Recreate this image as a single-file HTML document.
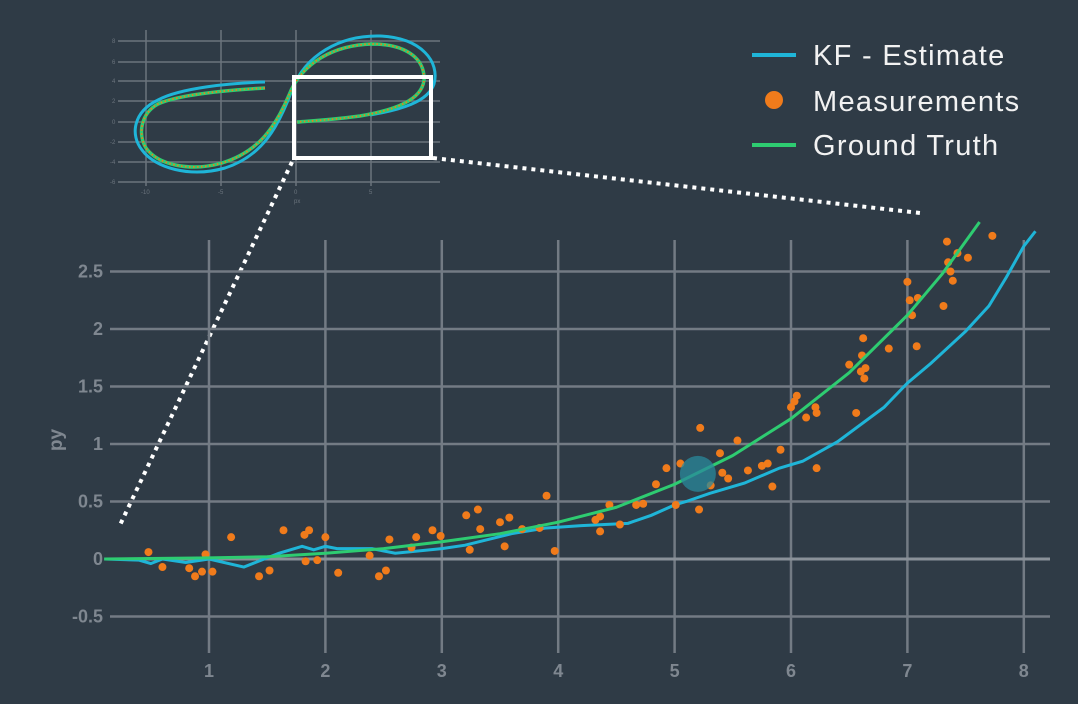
<!DOCTYPE html>
<html><head><meta charset="utf-8"><style>
html,body{margin:0;padding:0;background:#2f3b46;}
svg{display:block;font-family:"Liberation Sans",sans-serif;}
</style></head><body>
<svg id="c" width="1078" height="704">
<rect x="0" y="0" width="1078" height="704" fill="#2f3b46"/>
<g id="inset">
 <g stroke="#6b747d" stroke-width="1.5">
  <line x1="146" y1="30" x2="146" y2="186"/><line x1="221" y1="30" x2="221" y2="186"/>
  <line x1="296" y1="30" x2="296" y2="186"/><line x1="371" y1="30" x2="371" y2="186"/>
  <line x1="118" y1="41" x2="440" y2="41"/><line x1="118" y1="62" x2="440" y2="62"/>
  <line x1="118" y1="81" x2="440" y2="81"/><line x1="118" y1="101" x2="440" y2="101"/>
  <line x1="118" y1="122" x2="440" y2="122"/><line x1="118" y1="142" x2="440" y2="142"/>
  <line x1="118" y1="162" x2="440" y2="162"/><line x1="118" y1="182" x2="440" y2="182"/>
 </g>
 <g fill="#6b747d" font-size="6">
  <text x="141" y="194">-10</text><text x="218" y="194">-5</text><text x="294" y="194">0</text><text x="369" y="194">5</text>
  <text x="294" y="203">px</text>
  <text x="112" y="43">8</text><text x="112" y="64">6</text><text x="112" y="83">4</text><text x="112" y="103">2</text>
  <text x="112" y="124">0</text><text x="110" y="144">-2</text><text x="110" y="164">-4</text><text x="110" y="184">-6</text>
 </g>
 <path d="M265,82 C230,83 180,88 158,100 C133,112 130,135 142,150 C155,168 190,178 225,168 C262,156 278,128 292,90 C305,55 340,35 380,36 C422,38 440,62 434,84 C428,102 400,110 370,115" fill="none" stroke="#1fb5d8" stroke-width="3"/>
 <path d="M265,88 C230,90 180,94 158,104 C140,114 138,135 146,148 C158,165 190,172 222,163 C258,152 275,128 289,95 C302,62 335,45 372,44 C408,44 425,60 424,80 C422,100 395,110 360,116 C330,120 310,121 297,122" fill="none" stroke="#2ecc71" stroke-width="3.5"/>
 <path d="M265,88 C230,90 180,94 158,104 C140,114 138,135 146,148 C158,165 190,172 222,163 C258,152 275,128 289,95 C302,62 335,45 372,44 C408,44 425,60 424,80 C422,100 395,110 360,116 C330,120 310,121 297,122" fill="none" stroke="#f07b1b" stroke-width="1.8" stroke-dasharray="1.5 2.5"/>
 <rect x="294" y="77" width="137" height="81" fill="none" stroke="#ffffff" stroke-width="4"/>
</g>
<line x1="292" y1="162" x2="120" y2="525" stroke="#fff" stroke-width="4" stroke-dasharray="4 5"/>
<line x1="433" y1="158" x2="920" y2="213" stroke="#fff" stroke-width="4" stroke-dasharray="4 5"/>
<g id="grid"></g>
<g id="axes"></g>
<g id="marks"></g>
<text x="62" y="440" fill="#7f8790" font-size="19" font-weight="bold" text-anchor="middle" transform="rotate(-90 62 440)">py</text>
<g font-size="29" letter-spacing="1.3">
 <g><line x1="752" y1="55" x2="796" y2="55" stroke="#1fb5d8" stroke-width="4"/><text x="813" y="65" fill="#f2f2f2">KF - Estimate</text></g>
 <g><circle cx="774" cy="100" r="9" fill="#f07b1b"/><text x="813" y="111" fill="#f2f2f2">Measurements</text></g>
 <g><line x1="752" y1="145" x2="796" y2="145" stroke="#2ecc71" stroke-width="4"/><text x="813" y="155" fill="#f2f2f2">Ground Truth</text></g>
</g>
</svg>
<script>
const xTicks=[1,2,3,4,5,6,7,8];
const yTicks=[-0.5,0,0.5,1,1.5,2,2.5];
const yTickLabels=["-0.5","0","0.5","1","1.5","2","2.5"];
const gtX=[0.1,1,1.5,2,2.5,3,3.5,4,4.5,5,5.5,6,6.5,7,7.3,7.62];
const gtY=[0,0.01,0.02,0.05,0.09,0.15,0.22,0.32,0.45,0.65,0.9,1.22,1.62,2.12,2.48,2.93];
const kfX=[0.1,0.4,0.5,0.6,0.8,1.0,1.3,1.6,1.8,1.9,2.0,2.1,2.4,2.6,3.0,3.2,3.4,3.6,3.9,4.2,4.6,4.8,5.0,5.1,5.3,5.6,5.9,6.1,6.4,6.8,7.0,7.2,7.5,7.7,7.85,8.0,8.1];
const kfY=[0,-0.01,-0.04,0,-0.03,0,-0.07,0.05,0.11,0.08,0.11,0.09,0.09,0.05,0.09,0.12,0.17,0.22,0.27,0.29,0.31,0.38,0.47,0.5,0.57,0.66,0.79,0.85,1.02,1.32,1.53,1.7,1.98,2.2,2.45,2.72,2.85];
const mX=[0.48,0.60,0.83,0.88,0.94,0.97,1.03,1.19,1.43,1.52,1.64,1.82,1.86,1.83,1.93,2.00,2.11,2.38,2.46,2.52,2.55,2.74,2.78,2.92,2.99,3.21,3.24,3.31,3.33,3.50,3.54,3.58,3.69,3.84,3.90,3.97,4.32,4.36,4.36,4.44,4.53,4.67,4.73,4.84,4.93,5.01,5.05,5.21,5.22,5.31,5.39,5.41,5.46,5.54,5.63,5.75,5.80,5.84,5.91,6.00,6.03,6.05,6.13,6.21,6.22,6.22,6.50,6.56,6.60,6.62,6.61,6.63,6.64,6.84,7.00,7.02,7.04,7.09,7.08,7.31,7.34,7.35,7.37,7.39,7.43,7.52,7.73];
const mY=[0.06,-0.07,-0.08,-0.15,-0.11,0.04,-0.11,0.19,-0.15,-0.10,0.25,0.21,0.25,-0.02,-0.01,0.19,-0.12,0.03,-0.15,-0.10,0.17,0.10,0.19,0.25,0.20,0.38,0.08,0.43,0.26,0.32,0.11,0.36,0.26,0.27,0.55,0.07,0.34,0.37,0.24,0.47,0.30,0.47,0.48,0.65,0.79,0.47,0.83,0.43,1.14,0.64,0.92,0.75,0.70,1.03,0.77,0.81,0.83,0.63,0.95,1.32,1.37,1.42,1.23,1.32,0.79,1.27,1.69,1.27,1.63,1.92,1.77,1.57,1.66,1.83,2.41,2.25,2.12,2.27,1.85,2.20,2.76,2.58,2.50,2.42,2.66,2.62,2.81];
const hlX=[5.2], hlY=[0.74];
const NS='http://www.w3.org/2000/svg';
const sx=v=>92.6+v*116.4, sy=v=>559-v*115;
function mk(t,a,p){const e=document.createElementNS(NS,t);for(const k in a)e.setAttribute(k,a[k]);p.appendChild(e);return e;}
const grid=document.getElementById('grid'),axes=document.getElementById('axes'),marks=document.getElementById('marks');
xTicks.forEach(v=>{const l=mk('line',{x1:sx(v),x2:sx(v),y1:240,y2:653,stroke:'#737b84','stroke-width':2.5},grid);


const t=mk('text',{x:sx(v),y:677,fill:'#7f8790','font-size':18,'font-weight':'bold','text-anchor':'middle'},axes);t.textContent=v;

});
yTicks.forEach((v,i)=>{const l=mk('line',{x1:110,x2:1050,y1:sy(v),y2:sy(v),stroke:v===0?'#8a9199':'#737b84','stroke-width':v===0?3:2.5},grid);


const t=mk('text',{x:103,y:sy(v)+6,fill:'#7f8790','font-size':18,'font-weight':'bold','text-anchor':'end'},axes);t.textContent=yTickLabels[i];

});
const kf=mk('polyline',{points:kfX.map((x,i)=>sx(x)+','+sy(kfY[i])).join(' '),fill:'none',stroke:'#1fb5d8','stroke-width':3},marks);


mX.forEach((x,i)=>{const c=mk('circle',{cx:sx(x),cy:sy(mY[i]),r:4,fill:'#f07b1b'},marks);

});
let d='';for(let i=0;i<gtX.length;i++)d+=(i?' L':'M')+sx(gtX[i])+','+sy(gtY[i]);
const gt=mk('path',{d:d,fill:'none',stroke:'#2ecc71','stroke-width':3,'stroke-linejoin':'round'},marks);


const hl=mk('circle',{cx:sx(hlX[0]),cy:sy(hlY[0]),r:18,fill:'#2a8a9c','fill-opacity':0.75},marks);


</script>
</body></html>
